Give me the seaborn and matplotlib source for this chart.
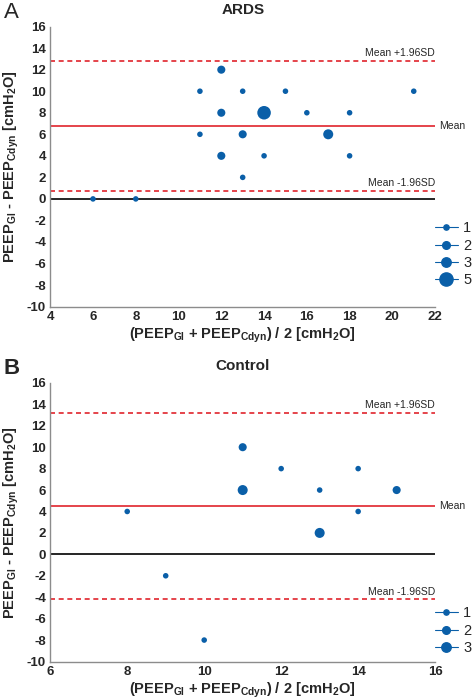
import numpy as np
import pandas as pd
import matplotlib
matplotlib.use("Agg")
import matplotlib.pyplot as plt
import seaborn as sns
from matplotlib.lines import Line2D

# ---- data ----
ards_x = [6, 8, 11, 11, 12, 12, 12, 13, 13, 13, 14, 14, 15, 16, 17, 18, 18, 21]
ards_y = [0, 0, 10, 6, 12, 8, 4, 10, 6, 2, 8, 4, 10, 8, 6, 8, 4, 10]
ards_n = [1, 1, 1, 1, 2, 2, 2, 1, 2, 1, 5, 1, 1, 1, 3, 1, 1, 1]
ards_mean, ards_upper, ards_lower = 6.8, 12.85, 0.75
ards_sizes = [1, 2, 3, 5]

ctrl_x = [8, 9, 10, 11, 11, 12, 13, 13, 14, 14, 15]
ctrl_y = [4, -2, -8, 10, 6, 8, 6, 2, 8, 4, 6]
ctrl_n = [1, 1, 1, 2, 3, 1, 1, 3, 1, 1, 2]
ctrl_mean, ctrl_upper, ctrl_lower = 4.5, 13.2, -4.2
ctrl_sizes = [1, 2, 3]

blue = "#0a5fa8"
red = "#e0242c"
grey = "#8c8c8c"
size_map = {1: 16, 2: 34, 3: 52, 5: 95}     # marker area per count
leg_ms = {1: 3.8, 2: 5.5, 3: 6.8, 5: 9.5}

sns.set_style("white")
plt.rcParams['font.family'] = ['Liberation Sans', 'DejaVu Sans']
plt.rcParams['axes.unicode_minus'] = False
plt.rcParams['mathtext.fontset'] = 'custom'
plt.rcParams['mathtext.rm'] = 'Liberation Sans:bold'
plt.rcParams['mathtext.bf'] = 'Liberation Sans:bold'
plt.rcParams['mathtext.it'] = 'Liberation Sans:bold'

fig = plt.figure(figsize=(4.74, 7.0), dpi=100)
axA = fig.add_axes([0.106, 0.562, 0.812, 0.400])
axB = fig.add_axes([0.106, 0.055, 0.812, 0.398])

ylab = r'PEEP$_{\mathrm{GI}}$ - PEEP$_{\mathrm{Cdyn}}$ [cmH$_{\mathrm{2}}$O]'
xlab = r'(PEEP$_{\mathrm{GI}}$ + PEEP$_{\mathrm{Cdyn}}$) / 2 [cmH$_{\mathrm{2}}$O]'


def bland_altman(ax, x, y, n, mean, upper, lower, xlim, sizes, title, letter, leg_y):
    df = pd.DataFrame({"x": x, "y": y, "n": n})
    # limits and reference lines
    ax.axhline(0, color="black", lw=1.2, zorder=1)
    ax.axhline(mean, color=red, lw=1.2, zorder=1)
    ax.axhline(upper, color=red, lw=1.2, ls=(0, (3, 2.2)), zorder=1)
    ax.axhline(lower, color=red, lw=1.2, ls=(0, (3, 2.2)), zorder=1)
    sns.scatterplot(data=df, x="x", y="y", size="n", sizes=size_map,
                    color=blue, edgecolor="none", legend=False, ax=ax, zorder=3)

    ax.set_xlim(*xlim)
    ax.set_ylim(-10, 16)
    xt = np.arange(xlim[0], xlim[1] + 1, 2)
    yt = np.arange(-10, 17, 2)
    ax.set_xticks(xt)
    ax.set_xticklabels([str(v) for v in xt], fontweight="bold", fontsize=9.5)
    ax.set_yticks(yt)
    ax.set_yticklabels([str(v) for v in yt], fontweight="bold", fontsize=9.5)
    ax.tick_params(direction="in", length=3, color=grey, pad=3)
    for s in ["top", "right"]:
        ax.spines[s].set_visible(False)
    for s in ["left", "bottom"]:
        ax.spines[s].set_color(grey)
        ax.spines[s].set_linewidth(1.0)

    ax.set_xlabel(xlab, fontsize=10.5, fontweight="bold", labelpad=2)
    ax.set_ylabel(ylab, fontsize=10.5, fontweight="bold", labelpad=4)
    ax.set_title(title, fontsize=11, fontweight="bold", pad=9)

    # annotations
    ax.text(1.01, mean, "Mean", transform=ax.get_yaxis_transform(),
            va="center", ha="left", fontsize=7.5)
    ax.text(1.0, upper + 0.25, "Mean +1.96SD", transform=ax.get_yaxis_transform(),
            va="bottom", ha="right", fontsize=7.5)
    ax.text(1.0, lower + 0.25, "Mean -1.96SD", transform=ax.get_yaxis_transform(),
            va="bottom", ha="right", fontsize=7.5)

    # legend of bubble sizes, MATLAB style with line through marker
    handles = [Line2D([0], [0], color=blue, lw=0.8, marker="o",
                      markersize=leg_ms[s], markeredgecolor=blue, markerfacecolor=blue)
               for s in sizes]
    fig.legend(handles, [str(s) for s in sizes], loc="upper left",
               bbox_to_anchor=(0.905, leg_y), frameon=False, fontsize=10.5,
               handlelength=1.6, handletextpad=0.35, labelspacing=0.22,
               borderaxespad=0)
    pos = ax.get_position()
    fig.text(0.008, pos.y1 + 0.005, letter, fontsize=16,
             fontweight="bold" if letter == "B" else "normal", va="bottom", ha="left")


bland_altman(axA, ards_x, ards_y, ards_n, ards_mean, ards_upper, ards_lower,
             (4, 22), ards_sizes, "ARDS", "A", 0.692)
bland_altman(axB, ctrl_x, ctrl_y, ctrl_n, ctrl_mean, ctrl_upper, ctrl_lower,
             (6, 16), ctrl_sizes, "Control", "B", 0.142)

fig.savefig("out.png", dpi=100)
